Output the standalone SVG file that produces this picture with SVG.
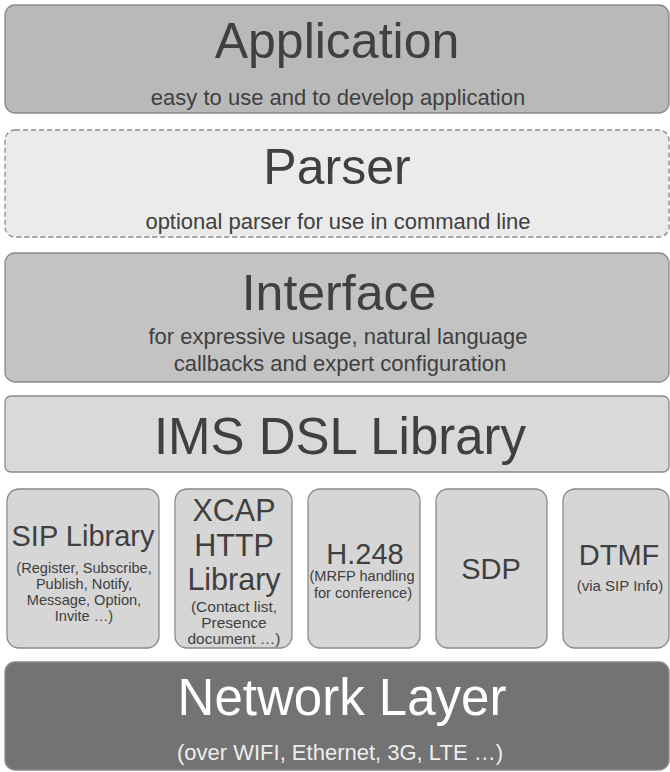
<svg xmlns="http://www.w3.org/2000/svg" width="670" height="772" viewBox="0 0 670 772">
<style>
text{font-family:"Liberation Sans",Arial,sans-serif;fill:#404040;text-anchor:middle}
.box{stroke:#8a8a8a;stroke-width:1.3}
.t{font-size:50px}
.s{font-size:22px}
.m{font-size:29px}
.x{font-size:14.6px}
</style>
<rect x="0" y="0" width="670" height="772" fill="#ffffff"/>
<g id="application">
<rect class="box" x="5" y="5" width="664" height="108" rx="10" fill="#b9b9b9"/>
<text class="t" x="337" y="58">Application</text>
<text class="s" x="338" y="105">easy to use and to develop application</text>
</g>
<g id="parser">
<rect class="box" x="5" y="130" width="664" height="107" rx="10" fill="#ebebeb" stroke-dasharray="5,3"/>
<text class="t" x="337" y="184">Parser</text>
<text class="s" x="338" y="229">optional parser for use in command line</text>
</g>
<g id="interface">
<rect class="box" x="5" y="253" width="664" height="129" rx="10" fill="#c3c3c3"/>
<text class="t" x="339" y="310">Interface</text>
<text class="s" x="338" y="344">for expressive usage, natural language</text>
<text class="s" x="340" y="371">callbacks and expert configuration</text>
</g>
<g id="ims-dsl-library">
<rect class="box" x="5" y="396" width="664" height="76" rx="6" fill="#d9d9d9"/>
<text class="t" x="340" y="454" style="font-size:51px">IMS DSL Library</text>
</g>
<g id="sip-library">
<rect class="box" x="7" y="489" width="152" height="159" rx="12" fill="#d6d6d6"/>
<text class="m" x="83" y="546">SIP Library</text>
<text class="x" x="84" y="573">(Register, Subscribe,</text>
<text class="x" x="84" y="589">Publish, Notify,</text>
<text class="x" x="84" y="605">Message, Option,</text>
<text class="x" x="84" y="621">Invite …)</text>
</g>
<g id="xcap-http-library">
<rect class="box" x="175" y="489" width="117" height="159" rx="12" fill="#d6d6d6"/>
<text class="m" x="234" y="521" style="font-size:30.5px">XCAP</text>
<text class="m" x="234" y="556" style="font-size:30.5px">HTTP</text>
<text class="m" x="234" y="590" style="font-size:30.5px">Library</text>
<text class="x" x="234" y="612" style="font-size:15.5px">(Contact list,</text>
<text class="x" x="234" y="628" style="font-size:15.5px">Presence</text>
<text class="x" x="234" y="644" style="font-size:15.5px">document …)</text>
</g>
<g id="h248">
<rect class="box" x="308" y="489" width="112" height="159" rx="12" fill="#d6d6d6"/>
<text class="m" x="365" y="564">H.248</text>
<text class="x" x="362" y="581">(MRFP handling</text>
<text class="x" x="363" y="598">for conference)</text>
</g>
<g id="sdp">
<rect class="box" x="436" y="489" width="111" height="159" rx="12" fill="#d6d6d6"/>
<text class="m" x="491" y="579">SDP</text>
</g>
<g id="dtmf">
<rect class="box" x="563" y="489" width="106" height="159" rx="12" fill="#d6d6d6"/>
<text class="m" x="619" y="565">DTMF</text>
<text class="x" x="620" y="591" style="font-size:15px">(via SIP Info)</text>
</g>
<g id="network-layer">
<rect class="box" x="5" y="662" width="664" height="108" rx="10" fill="#737373"/>
<text class="t" x="342" y="715" style="fill:#ffffff;font-size:51px">Network Layer</text>
<text class="s" x="340" y="760" style="fill:#eeeeee">(over WIFI, Ethernet, 3G, LTE …)</text>
</g>
<g id="connectors"></g>
</svg>
